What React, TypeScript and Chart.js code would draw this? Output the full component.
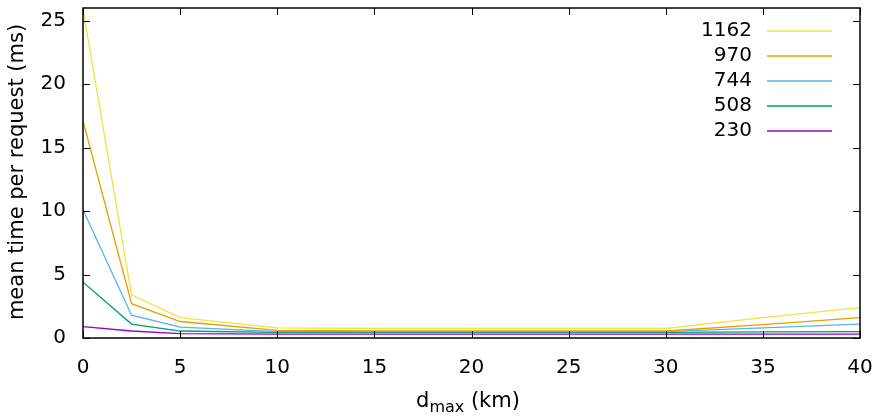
import React, { useEffect, useRef } from "react";
import { Chart, registerables } from "chart.js";

Chart.register(...registerables);

const xValues = [0, 2.5, 5, 10, 15, 20, 25, 30, 35, 40];
const seriesLabels = ["1162", "970", "744", "508", "230"];
const seriesColors = ["#f0e442", "#e69f00", "#56b4e9", "#009e73", "#9400d3"];
const s1162 = [25.9, 3.4, 1.6, 0.8, 0.75, 0.75, 0.75, 0.75, 1.6, 2.4];
const s970 = [17.1, 2.7, 1.3, 0.6, 0.55, 0.55, 0.55, 0.55, 1.05, 1.6];
const s744 = [10.1, 1.8, 0.85, 0.5, 0.5, 0.5, 0.5, 0.5, 0.8, 1.1];
const s508 = [4.4, 1.1, 0.55, 0.45, 0.45, 0.45, 0.45, 0.45, 0.48, 0.5];
const s230 = [0.9, 0.55, 0.35, 0.3, 0.3, 0.3, 0.3, 0.3, 0.3, 0.3];
const seriesValues = [s1162, s970, s744, s508, s230];
const xTicks = [0, 5, 10, 15, 20, 25, 30, 35, 40];
const yTicks = [0, 5, 10, 15, 20, 25];

const FONT = "'DejaVu Sans', sans-serif";

const framePlugin = {
  id: "frame",
  afterDatasetsDraw(chart: any) {
    const { ctx, chartArea: a, scales } = chart;
    ctx.save();
    ctx.strokeStyle = "#000";
    ctx.lineWidth = 1;
    ctx.beginPath();
    const L = 7;
    for (const v of xTicks) {
      const x = Math.round(scales.x.getPixelForValue(v)) + 0.5;
      ctx.moveTo(x, a.bottom);
      ctx.lineTo(x, a.bottom - L);
      ctx.moveTo(x, a.top);
      ctx.lineTo(x, a.top + L);
    }
    for (const v of yTicks) {
      const y = Math.round(scales.y.getPixelForValue(v)) + 0.5;
      ctx.moveTo(a.left, y);
      ctx.lineTo(a.left + L, y);
      ctx.moveTo(a.right, y);
      ctx.lineTo(a.right - L, y);
    }
    ctx.stroke();
    ctx.lineWidth = 1.5;
    ctx.strokeRect(a.left, a.top, a.right - a.left, a.bottom - a.top);

    // legend
    ctx.font = `20px ${FONT}`;
    ctx.textAlign = "right";
    ctx.textBaseline = "middle";
    chart.data.datasets.forEach((ds: any, i: number) => {
      const y = 31 + i * 25;
      ctx.fillStyle = "#000";
      ctx.fillText(ds.label, 752, y);
      ctx.strokeStyle = seriesColors[i];
      ctx.lineWidth = 1.5;
      ctx.beginPath();
      ctx.moveTo(767, y);
      ctx.lineTo(832, y);
      ctx.stroke();
    });

    // axis titles
    ctx.fillStyle = "#000";
    ctx.textBaseline = "alphabetic";
    ctx.textAlign = "left";
    const main = "d";
    const sub = "max";
    const rest = " (km)";
    ctx.font = `21px ${FONT}`;
    const wMain = ctx.measureText(main).width;
    const wRest = ctx.measureText(rest).width;
    ctx.font = `16px ${FONT}`;
    const wSub = ctx.measureText(sub).width;
    const total = wMain + wSub + wRest;
    const cx = 468;
    const x0 = cx - total / 2;
    const base = 407;
    ctx.font = `21px ${FONT}`;
    ctx.fillText(main, x0, base);
    ctx.font = `16px ${FONT}`;
    ctx.fillText(sub, x0 + wMain, base + 5);
    ctx.font = `21px ${FONT}`;
    ctx.fillText(rest, x0 + wMain + wSub, base);

    ctx.translate(18, 172);
    ctx.rotate(-Math.PI / 2);
    ctx.textAlign = "center";
    ctx.textBaseline = "middle";
    ctx.fillText("mean time per request (ms)", 0, 0);
    ctx.restore();
  },
};

export default function App() {
  const ref = useRef<HTMLCanvasElement>(null);
  useEffect(() => {
    document.body.style.margin = "0";
    const chart = new Chart(ref.current!, {
      type: "line",
      data: {
        datasets: seriesLabels.map((label, i) => ({
          label,
          data: xValues.map((x, j) => ({ x, y: seriesValues[i][j] })),
          borderColor: seriesColors[i],
          backgroundColor: seriesColors[i],
          borderWidth: 1.3,
          pointRadius: 0,
          tension: 0,
          fill: false,
        })),
      },
      options: {
        animation: false,
        responsive: false,
        layout: { padding: { top: 8, right: 23, left: 0, bottom: 0 } },
        plugins: { legend: { display: false }, tooltip: { enabled: false } },
        scales: {
          x: {
            type: "linear",
            min: 0,
            max: 40,
            grid: { display: false, drawTicks: false },
            border: { display: false },
            ticks: {
              stepSize: 5,
              includeBounds: false,
              padding: 18,
              color: "#000",
              font: { family: FONT, size: 20 },
              maxRotation: 0,
            },
            afterFit(scale: any) {
              scale.height = 78;
              scale.paddingLeft = 0;
              scale.paddingRight = 0;
            },
          },
          y: {
            type: "linear",
            min: 0,
            max: 26,
            grid: { display: false, drawTicks: false },
            border: { display: false },
            ticks: {
              stepSize: 5,
              includeBounds: false,
              padding: 17,
              color: "#000",
              font: { family: FONT, size: 20 },
            },
            afterFit(scale: any) {
              scale.width = 83;
              scale.paddingTop = 0;
              scale.paddingBottom = 0;
            },
          },
        },
      },
      plugins: [framePlugin],
    });
    return () => chart.destroy();
  }, []);
  return <canvas ref={ref} width={883} height={416} style={{ display: "block" }} />;
}
